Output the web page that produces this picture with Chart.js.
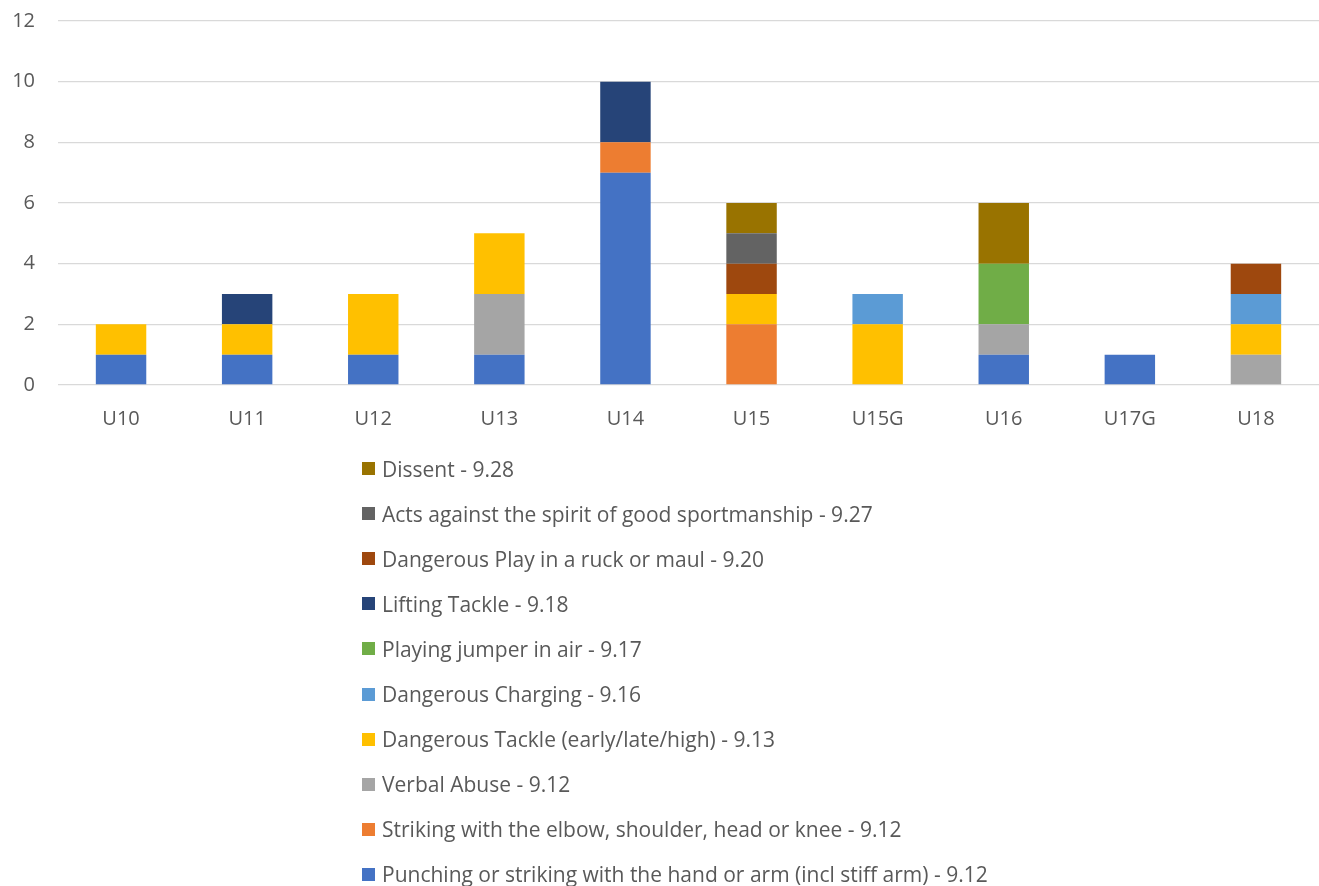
<!DOCTYPE html>
<html>
<head>
<meta charset="utf-8">
<script src="https://cdn.jsdelivr.net/npm/chart.js@4.4.1/dist/chart.umd.min.js"></script>
<style>
    body { margin: 0; background: #fff; }
    #wrap { position: relative; width: 1319px; height: 886px; }
    #chartBox { position: absolute; left: 0; top: 0; width: 1319px; height: 448px; }
    #legend { position: absolute; left: 362px; top: 446px; margin: 0; padding: 0; list-style: none;
        font-family: 'Open Sans', sans-serif; font-size: 21px; color: #595959; }
    #legend li { height: 45.1px; display: flex; align-items: center; white-space: nowrap; }
    #legend span.box { width: 13px; height: 13px; margin-right: 7px; display: inline-block; }
</style>
</head>
<body>
<div id="wrap">
    <div id="chartBox"><canvas id="myChart"></canvas></div>
    <ul id="legend"></ul>
</div>
<script>
var categories = ['U10', 'U11', 'U12', 'U13', 'U14', 'U15', 'U15G', 'U16', 'U17G', 'U18']
var yTicks = [0, 2, 4, 6, 8, 10, 12]

// stacked bottom to top
var punching = [1, 1, 1, 1, 7, 0, 0, 1, 1, 0]
var striking = [0, 0, 0, 0, 1, 2, 0, 0, 0, 0]
var verbal = [0, 0, 0, 2, 0, 0, 0, 1, 0, 1]
var tackle = [1, 1, 2, 2, 0, 1, 2, 0, 0, 1]
var charging = [0, 0, 0, 0, 0, 0, 1, 0, 0, 1]
var jumper = [0, 0, 0, 0, 0, 0, 0, 2, 0, 0]
var lifting = [0, 1, 0, 0, 2, 0, 0, 0, 0, 0]
var ruck = [0, 0, 0, 0, 0, 1, 0, 0, 0, 1]
var acts = [0, 0, 0, 0, 0, 1, 0, 0, 0, 0]
var dissent = [0, 0, 0, 0, 0, 1, 0, 2, 0, 0]

var seriesNames = [
    'Punching or striking with the hand or arm (incl stiff arm) - 9.12',
    'Striking with the elbow, shoulder, head or knee - 9.12',
    'Verbal Abuse - 9.12',
    'Dangerous Tackle (early/late/high) - 9.13',
    'Dangerous Charging - 9.16',
    'Playing jumper in air - 9.17',
    'Lifting Tackle - 9.18',
    'Dangerous Play in a ruck or maul - 9.20',
    'Acts against the spirit of good sportmanship - 9.27',
    'Dissent - 9.28'
]
var seriesValues = [punching, striking, verbal, tackle, charging, jumper, lifting, ruck, acts, dissent]
var seriesColors = ['#4472C4', '#ED7D31', '#A5A5A5', '#FFC000', '#5B9BD5',
    '#70AD47', '#264478', '#9E480E', '#636363', '#997300']

var datasets = []
for (let i = 0; i < seriesNames.length; i++) {
    datasets.push({
        label: seriesNames[i],
        data: seriesValues[i],
        backgroundColor: seriesColors[i],
        borderWidth: 0,
        barPercentage: 0.4,
        categoryPercentage: 1
    })
}

var tickFont = { family: 'Open Sans', size: 20 }

var ctx = document.getElementById('myChart').getContext('2d');
var chart = new Chart(ctx, {
    type: 'bar',
    data: {
        labels: categories,
        datasets: datasets
    },
    options: {
        responsive: true,
        maintainAspectRatio: false,
        animation: false,
        layout: { padding: { top: 21, right: 0, bottom: 3, left: 0 } },
        plugins: {
            legend: { display: false },
            tooltip: { enabled: false }
        },
        scales: {
            x: {
                stacked: true,
                grid: { display: false },
                border: { display: false },
                ticks: { color: '#595959', font: tickFont, padding: 14 }
            },
            y: {
                stacked: true,
                min: 0,
                max: 12,
                afterBuildTicks: function(scale) {
                    scale.ticks = yTicks.map(function(v) { return { value: v } })
                },
                afterFit: function(scale) {
                    // fixed axis width, and keep tick padding out of the top/bottom space
                    scale.width = 58
                    scale.paddingTop = 0
                    scale.paddingBottom = 0
                },
                grid: { color: '#D9D9D9', lineWidth: 1.3, drawTicks: false },
                border: { display: false },
                ticks: { color: '#595959', font: tickFont, padding: 23 }
            }
        }
    }
});

// legend as list, reversed like the original
var legendList = document.getElementById('legend')
for (let i = datasets.length - 1; i >= 0; i--) {
    var li = document.createElement('li')
    var box = document.createElement('span')
    box.className = 'box'
    box.style.background = datasets[i].backgroundColor
    li.appendChild(box)
    li.appendChild(document.createTextNode(datasets[i].label))
    legendList.appendChild(li)
}
</script>
</body>
</html>
